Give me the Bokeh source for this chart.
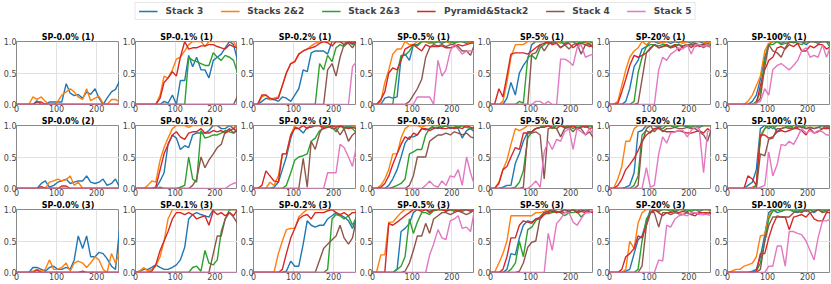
from bokeh.plotting import figure
from bokeh.layouts import column, row
from bokeh.models import Range1d, FixedTicker, PrintfTickFormatter, Legend, LegendItem, Title
from bokeh.embed import file_html
from bokeh.resources import INLINE

STEPS = [0, 10, 21, 31, 41, 51, 62, 72, 82, 93, 103, 113, 124, 134, 144, 154, 165, 175, 185, 196, 206, 216, 226, 237, 247, 257]

SERIES = ["Stack 3", "Stacks 2&2", "Stack 2&3", "Pyramid&Stack2", "Stack 4", "Stack 5"]
COLORS = ["#1f77b4", "#ff7f0e", "#2ca02c", "#d62728", "#8c564b", "#e377c2"]

LEVELS = ["SP-0.0%", "SP-0.1%", "SP-0.2%", "SP-0.5%", "SP-5%", "SP-20%", "SP-100%"]
SEEDS = ["(1)", "(2)", "(3)"]

X_TICKS = [0, 100, 200]
Y_TICKS = [0, 0.5, 1.0]

ZERO = [0, 0, 0, 0, 0, 0, 0, 0, 0, 0, 0, 0, 0, 0, 0, 0, 0, 0, 0, 0, 0, 0, 0, 0, 0, 0]

# panel order: row (1) cols 0..6, row (2) cols 0..6, row (3) cols 0..6
STACK3 = [
    [0,0,0,0,0, .06,0,0,.04,.04, .04,.04,.33,.18,.14, .16,.1,.2,.16,.25, .1,0,.1,.2,.24, .37],
    [0,0,0,0,0, 0,0,.05,.02,.15, 0,.38,.38,.78,.6, .75,.55,.55,.42,.7, .75,.8,.9,1,.95, .7],
    [0,0,.05,.1,.08, .08,.05,.12,.1,.05, .15,.25,.55,.52,.82, .85,.85,.85,.8,1, 1,1,1,.97,1, .98],
    [0,0,0,.1,.12, .1,.12,.75,.8,.7, .95,.95,1,1,.97, 1,1,.97,1,1, .98,1,1,.97,1, 1],
    [0,0,0,0,.1, .35,.15,.5,.62,.72, .95,1,1,1,.97, 1,1,1,.97,1, 1,.95,1,1,.95, .9],
    [0,0,0,0,.05, .25,.6,.7,.88,.92, 1,1,.97,1,1, .97,1,.98,1,1, .97,1,1,.97,1, 1],
    [0,0,0,0,0, 0,.05,.15,.4,.75, .95,1,1,.97,1, 1,.98,1,1,.95, 1,1,.97,1,1, .97],
    [0,0,0,0,0, 0,.08,.12,.02,.05, .1,.12,.15,.08,.1, .12,.12,.2,.1,.08, .1,.15,.05,.08,.15, .02],
    [0,0,0,0,0, 0,.12,.25,.7,.85, .8,.62,.68,.65,.85, .88,.88,.88,.92,1, 1,.95,.95,1,.95, 1],
    [0,0,0,0,0, .02,.1,.3,.5,.8, .98,.95,.88,.97,.97, 1,1,1,.97,1, 1,.98,1,.97,1, .95],
    [0,0,0,0,.05, .15,.3,.5,.72,.82, .82,.85,.95,.93,.95, .97,.95,.97,1,.95, .97,.95,.8,.92,.95, .9],
    [0,0,0,.02,.05, .05,.4,.55,.75,.9, .9,.95,.97,1,1, .97,1,1,.97,1, 1,.95,1,.97,1, .97],
    [0,0,0,0,.02, .05,.25,.9,.92,1, 1,1,.97,1,1, 1,.97,1,1,.98, 1,1,.97,1,1, 1],
    [0,0,0,0,0, .05,.1,.3,.95,1, .95,1,.9,.95,.97, 1,.95,.97,1,.95, .97,.95,.97,1,.97, .95],
    [0,0,0,0,.08, .08,.05,.02,.08,.1, .05,.05,.08,.05,.2, .58,.38,.58,.25,.25, .32,.3,.22,.1,.05, .68],
    [0,.02,.05,.05,.08, .12,.08,.05,.05,.08, .12,.2,.4,.85,.92, .95,.92,.9,.88,1, 1,1,1,1,1, 1],
    [0,0,0,0,0, 0,0,0,.02,.18, .1,.1,.45,.82,.75, .72,.75,.75,.85,.9, .95,.92,.88,.82,.7, .85],
    [0,0,0,0,0, 0,.05,.65,.7,.78, .95,1,1,1,.97, 1,1,1,.98,1, 1,1,.97,1,1, 1],
    [0,0,0,0,.05, .3,.28,.55,.75,.82, .8,.85,.88,.95,.97, 1,.95,.97,1,.97, 1,.95,.97,1,.97, .95],
    [0,0,0,0,.02, .05,.3,.52,.58,.8, 1,1,.97,1,1, 1,.97,1,1,.97, 1,1,.97,1,1, .98],
    [0,0,0,0,0, 0,.02,.05,.25,.6, .95,1,.95,.97,1, 1,.97,.95,1,.97, 1,.95,1,1,.97, 1],
]

STACKS22 = [
    [0,0,0,0,.12, .08,.12,.05,0,0, .05,.15,.2,.25,.2, .12,.08,.25,.06,.1, .13,.02,0,.08,.08, .04],
    [0,0,0,0,0, 0,.15,.45,.42,.55, .72,.75,.85,.95,1, 1,1,.92,1,1, 1,1,1,1,1, .88],
    [0,0,.12,.15,.08, .1,.12,.3,.5,.65, .68,.8,.85,.88,.93, .97,1,1,1,1, 1,1,1,1,.97, .95],
    [0,0,.05,.35,.55, .8,.88,.88,1,.95, .95,1,1,1,.97, 1,1,1,1,.97, 1,1,1,1,.98, 1],
    [0,0,0,.05,.35, .75,.95,.95,.95,1, 1,1,1,1,1, 1,1,.97,1,1, 1,1,1,.98,1, 1],
    [0,0,.05,.3,.55, .75,.85,.9,1,.95, 1,1,1,.97,1, 1,1,1,.97,1, 1,1,1,1,.97, 1],
    [0,0,0,0,0, .05,.15,.3,.45,.85, .97,1,1,1,1, 1,1,1,1,1, 1,1,1,1,1, 1],
    [0,0,0,0,0, 0,0,0,.1,.12, .15,.12,.14,.2,.05, .1,0,0,0,0, 0,0,0,0,0, 0],
    [0,0,0,.05,.12, .1,.45,.65,.8,.95, 1,1,1,.97,1, 1,1,1,1,1, 1,1,1,1,1, .95],
    [0,0,0,0,.1, .05,.2,.55,.55,.85, 1,1,1,1,1, 1,1,.97,1,1, 1,1,1,1,1, .95],
    [0,0,.05,.15,.3, .55,.55,.8,.95,1, 1,1,.97,1,1, 1,1,1,1,1, 1,.97,1,1,1, 1],
    [0,0,.1,.3,.45, .7,.95,.92,.95,1, 1,1,1,1,1, 1,1,1,.97,1, 1,1,1,1,1, 1],
    [0,0,.15,.35,.75, .75,.95,1,1,1, 1,1,1,1,1, 1,1,1,1,1, 1,1,1,1,1, 1],
    [0,0,0,0,0, 0,.02,.05,.85,.95, 1,1,1,1,1, 1,1,1,1,1, 1,1,1,1,1, 1],
    [0,0,0,0,.02, .05,.02,.05,.2,.05, .05,.08,.15,.02,.15, .18,.15,.08,.15,.25, .2,.05,0,.3,.15, .3],
    [0,.02,.08,.02,.05, .1,.25,.5,.85,1, 1,1,1,1,1, 1,1,1,1,1, 1,1,1,1,1, 1],
    [0,0,0,0,0, 0,.3,.5,.68,.7, .7,.88,.95,1,1, 1,1,1,1,1, 1,1,1,1,1, 1],
    [0,0,.28,.28,.8, .8,.88,.95,1,1, 1,1,1,1,1, 1,1,1,1,1, 1,1,1,1,1, 1],
    [0,0,.15,.3,.5, .9,.9,.9,.9,.9, .9,.95,.95,.97,1, 1,1,1,1,1, 1,1,1,1,1, 1],
    [0,0,0,0,.05, .5,.38,.78,.95,1, 1,1,1,1,1, 1,1,1,1,1, 1,1,1,1,1, .95],
    [0,.02,.05,.05,.1, .12,.15,.25,.58,.6, .9,.98,1,1,1, 1,1,1,1,1, 1,1,1,1,1, 1],
]

STACK23 = [
    ZERO,
    [0,0,0,0,0, 0,0,0,0,0, 0,0,0,.75,.7, .68,.65,.62,.62,.82, .75,.7,.78,.75,.7, .5],
    [0,0,0,0,0, 0,0,0,0,0, 0,0,0,0,0, 0,.65,.55,.78,.68, .9,.95,.92,1,.95, 1],
    [0,0,0,0,0, 0,.5,.78,.78,.85, .95,.93,1,1,1, .97,1,1,1,1, .97,1,1,1,1, 1],
    [0,0,0,0,0, 0,0,.05,.02,.75, .78,.72,.9,.95,1, .97,1,1,.95,1, 1,1,.97,1,1, .97],
    [0,0,0,0,0, 0,.05,.5,.75,.92, .95,.95,.93,.95,.95, .92,.95,.95,.93,.95, .95,.97,.95,.95,.97, .95],
    [0,0,0,0,0, 0,0,.05,.2,.7, .95,.95,1,.95,.97, .98,1,.97,.95,1, 1,1,1,1,1, .9],
    ZERO,
    [0,0,0,0,0, 0,.02,0,0,0, 0,.02,.05,.5,.15, .1,.92,.8,.82,.85, .85,.88,.92,.9,.88, .92],
    [0,0,0,0,0, 0,0,0,.05,.25, .45,.5,.52,.55,.75, .8,.92,.95,1,.98, .9,1,.95,.98,.95, .88],
    [0,0,0,0,0, .02,.05,.08,.15,.55, .58,.62,.62,.85,.95, 1,1,.97,1,1, 1,.97,1,.97,.95, .97],
    [0,0,0,0,0, 0,.02,.1,.28,.8, .9,.95,.97,1,1, .95,1,1,.97,1, .95,1,1,.97,1, 1],
    [0,0,0,0,0, 0,.05,.2,.85,.92, .88,.95,.97,.95,1, 1,.97,1,1,1, .97,1,1,1,1, 1],
    [0,0,0,0,0, 0,0,.05,.8,.95, 1,.95,1,1,1, .97,1,1,.97,1, 1,1,1,1,1, 1],
    ZERO,
    [0,0,0,0,0, 0,0,0,0,0, 0,0,0,0,.08, .1,.02,.35,.15,.12, .2,.65,.85,1,1, 1],
    [0,0,0,0,0, 0,0,0,0,0, 0,0,0,0,0, 0,0,0,.05,.85, .92,.9,.85,.9,.75, .88],
    [0,0,0,0,0, 0,.05,.1,.25,.85, .62,.8,.95,.95,.92, .98,1,1,1,1, .97,1,1,1,1, 1],
    [0,0,0,0,0, .05,.15,.5,.25,.68, .72,.82,.88,.95,.93, .95,.97,.95,.9,.95, .95,.97,.88,.95,.95, .97],
    [0,0,0,0,0, 0,0,.05,.5,.85, .95,.98,1,1,1, .97,1,1,1,1, .97,1,1,1,1, 1],
    [0,0,0,0,0, 0,0,.02,.15,.5, .85,.98,1,.97,1, 1,.97,1,.97,1, 1,.97,1,.97,1, 1],
]

PYRAMID = [
    [0,0,0,0,0, .04,.04,0,0,0, 0,0,0,0,0, 0,0,0,0,0, 0,0,0,0,0, 0],
    [0,0,0,0,0, 0,.1,.35,.42,.52, .45,.75,1,.88,.9, .9,.93,.93,.95,.95, .92,.9,.88,.95,.92, .9],
    [0,0,.15,.15,.1, .08,.1,.3,.5,.65, .68,.8,.85,.88,.9, .92,.97,1,.98,.93, 1,1,.95,1,.97, 1],
    [0,0,.08,.2,.5, .58,.55,.7,.88,.92, .95,.9,.85,.95,.92, .92,.92,.93,.9,.9, .92,.95,.93,.95,.97, .98],
    [0,0,.25,.12,.45, .8,.82,.82,.82,.8, .85,.9,.95,.97,1, .95,.97,.9,.95,.97, .9,.95,.97,.95,.92, .95],
    [0,0,.02,.2,.4, .62,.78,.75,.78,.82, .88,.95,.9,.92,.95, .9,.95,.85,.93,.95, .9,.97,.92,.95,.93, .9],
    [0,0,0,0,0, 0,0,.02,.3,.55, .7,.75,.9,.92,.88, .95,.92,.97,.85,.85, .93,.9,.95,.95,.88, .92],
    [0,0,0,0,0, 0,.03,0,0,0, 0,.04,.04,0,0, 0,0,0,0,0, 0,0,0,0,0, 0],
    [0,0,0,0,0, .02,.3,.55,.7,.85, .9,.82,.78,.88,.9, .9,.95,.88,.88,.92, .9,.92,.88,.92,.95, .9],
    [0,0,.05,.28,.2, .12,.1,.55,.55,.85, .95,.95,1,.95,1, 1,1,.95,.97,1, .97,1,.97,.95,.97, .95],
    [0,0,.02,.08,.2, .38,.55,.7,.82,.78, .88,.85,.95,.95,.92, .95,.97,.95,.95,.97, .95,.97,.95,1,.97, .95],
    [0,0,.08,.3,.35, .5,.65,.62,.88,.88, .9,.95,.97,.97,1, .97,.95,1,.97,.97, 1,.95,.97,1,.95, .97],
    [0,0,.05,.15,.3, .38,.48,.6,.75,.85, .9,.95,.95,.92,.9, .9,.9,.92,.9,.88, .88,.9,.92,.88,.95, .9],
    [0,0,0,0,0, .2,.15,.05,.85,.85, .8,.82,.9,.92,.9, .92,.95,.95,.92,.85, .95,.88,.9,.95,.95, .95],
    [0,0,0,0,0, .04,0,0,0,0, 0,0,0,0,0, 0,.02,0,0,0, 0,0,0,0,0, 0],
    [0,0,0,0,.02, .12,.35,.5,.65,.85, .95,.95,.92,.95,.92, .85,.88,.9,.75,.98, .92,.95,.9,.95,.9, 1],
    [0,0,0,0,0, 0,0,.05,.3,.55, .7,.85,.9,.92,.85, .95,.95,.95,.98,1, .95,.92,.95,.9,.95, .95],
    [0,0,0,0,.78, .75,.8,.85,.9,.95, 1,1,.97,1,.95, 1,1,1,.97,1, 1,.97,1,1,.97, 1],
    [0,0,0,.05,.25, .55,.55,.75,.82,.8, .78,.85,.85,.92,.95, .97,.95,.97,.95,.97, 1,.95,.97,.95,.97, .95],
    [0,0,0,.05,.25, .3,.38,.58,.55,.75, .95,1,.95,.9,.95, .95,.97,.95,.97,.95, .92,.9,.95,.95,.95, .95],
    [0,0,0,0,0, 0,0,.02,.3,.3, .55,.75,.9,.88,.88, .68,.88,.9,.92,.88, .95,.85,.82,.82,.95, .95],
]

STACK4 = [
    ZERO,
    [0,0,0,0,0, 0,0,0,0,0, 0,0,0,0,0, 0,0,0,0,0, 0,0,0,0,0, .13],
    [0,0,0,0,0, 0,0,0,0,0, 0,0,0,0,0, 0,0,0,.55,.65, .45,.75,.95,.97,.9, 1],
    [0,0,0,0,0, 0,0,0,0,.05, .15,.25,.4,.75,.9, .95,.93,.95,.92,.95, .95,.92,.85,.85,.78, .95],
    [0,0,0,0,0, 0,0,0,0,0, .8,.82,.95,.85,.95, 1,.97,.9,.95,.88, .95,.97,.8,.95,.97, .9],
    [0,0,0,0,0, 0,0,.02,.4,.82, .9,.95,.9,.92,.93, .9,.92,.95,.9,.93, .95,.92,.95,.9,.95, .92],
    [0,0,0,0,0, 0,0,.02,.1,.6, .95,.85,.82,.75,.9, 1,1,1,1,1, 1,1,1,1,1, 1],
    ZERO,
    [0,0,0,0,0, 0,0,0,0,0, 0,0,0,0,.05, .15,.5,.33,.45,.55, .65,.7,.9,.95,.88, .95],
    [0,0,0,0,0, 0,0,0,0,0, 0,0,.48,.02,.75, .62,.88,1,1,.95, .95,.85,.95,.75,.85, .9],
    [0,0,0,0,0, 0,0,0,0,.05, .2,.5,.5,.5,.75, .8,.85,.85,.88,.85, .9,.88,.85,.88,.82, .8],
    [0,0,0,0,0, 0,0,0,.02,.88, .88,.9,.85,.15,.95, .97,.95,.82,.95,.97, .9,.97,.95,.85,.9, .8],
    [0,0,0,0,0, 0,0,.05,.72,.95, 1,.9,.98,.9,.95, .95,.97,.95,.95,.97, .95,.95,.9,.85,.75, .95],
    [0,0,0,0,0, 0,0,0,.55,.52, .78,.8,.95,.95,.97, .95,.95,1,.97,.95, .97,.95,.97,.95,1, .97],
    ZERO,
    [0,0,0,0,0, 0,0,0,0,0, 0,0,0,0,0, 0,0,0,0,.3, .58,.58,.85,.95,.88, .78],
    [0,0,0,0,0, 0,0,0,0,0, 0,0,0,0,0, 0,.2,.38,.45,.52, .58,.75,.55,.45,.55, .85],
    [0,0,0,0,0, 0,0,0,.02,.15, .35,.58,.58,.78,.62, .85,.9,.95,.95,.92, .95,.98,.95,.92,.95, 1],
    [0,0,0,0,0, 0,0,.02,.15,.4, .48,.5,.88,.95,.97, 1,.97,.95,1,.97, 1,.97,1,.97,1, 1],
    [0,0,0,0,0, 0,0,0,.1,.75, .95,.95,.72,.95,.95, .92,.95,.93,.92,.95, .92,.95,.93,.92,.95, .93],
    [0,0,0,0,0, 0,0,0,.05,.5, .75,.88,.88,.88,.88, .88,.95,.97,.95,1, .95,.97,1,.95,.97, 1],
]

STACK5 = [
    ZERO,
    ZERO,
    [0,0,0,0,0, 0,0,0,0,0, 0,0,0,0,0, 0,0,0,0,0, 0,0,0,0,.6, .68],
    [0,0,0,0,0, 0,0,0,0,0, 0,.12,.12,.12,.12, 0,.7,.45,.55,.85, .95,.88,.8,.85,.85, .85],
    [0,0,0,0,0, 0,0,0,0,0, 0,.05,.05,0,.05, 0,0,.72,.72,.68, .62,.9,.95,.75,.78, .8],
    [0,0,0,0,0, 0,0,0,0,0, 0,0,.55,.75,.7, .8,.85,.9,.88,.95, .8,.95,.95,.92,.95, .9],
    [0,0,0,0,0, 0,0,.02,.05,.25, .15,.55,.62,.65,.6, .55,.62,.7,.85,.9, .75,.78,.75,.95,.75, .92],
    ZERO,
    [0,0,0,0,0, 0,0,0,0,0, 0,0,0,0,0, 0,0,0,0,0, 0,0,0,.05,.08, .1],
    [0,0,0,0,0, 0,0,0,0,0, 0,0,0,0,0, 0,0,0,.25,.25, .25,.7,.65,.5,.35, .68],
    [0,0,0,0,0, 0,0,0,0,0, 0,0,0,.05,.12, .05,.02,.12,.05,.2, .18,.3,.05,.5,.25, .05],
    [0,0,0,0,0, 0,0,0,0,0, .05,.12,.02,.58,.75, .62,.78,.75,.9,.95, .62,.95,.9,.85,.95, .85],
    [0,0,0,0,0, 0,0,0,0,.33, .02,.05,.55,.82,.72, .88,.9,.92,.92,.82, .92,.98,.95,.25,.9, .95],
    [0,0,0,0,0, 0,0,0,.02,.05, .58,.2,.38,.7,.68, .75,.7,.82,.95,.88, .92,.88,.92,.9,.85, .85],
    ZERO,
    ZERO,
    ZERO,
    [0,0,0,0,0, 0,0,0,0,0, 0,0,0,0,.28, .45,.68,.55,.52,.82, .85,.9,.7,.72,.65, 1],
    [0,0,0,0,0, 0,0,0,0,0, 0,0,0,0,.62, .35,.78,.85,.95,.95, .8,.75,.85,.95,.95, 1],
    [0,0,0,0,0, 0,0,0,0,0, 0,0,.2,.18,.75, .72,.85,.9,.92,.9, .95,.95,.92,.92,.92, .9],
    [0,0,0,0,0, 0,0,0,0,0, .1,.1,.42,.42,.1, .65,.65,.62,.6,.5, .35,.2,.55,.82,.82, .85],
]

ALL_SERIES = [STACK3, STACKS22, STACK23, PYRAMID, STACK4, STACK5]

for name, ser in zip(SERIES, ALL_SERIES):
    if len(ser) != 21:
        raise ValueError(f"{name}: {len(ser)} panels")
    for k, vals in enumerate(ser):
        if len(vals) != len(STEPS):
            raise ValueError(f"{name} panel {k}: {len(vals)} values")

FONT = "DejaVu Sans"
COL_W = [119, 118, 119, 118, 119, 118, 119]
ROW_H = 84
LEG_H = 30


def make_panel(idx):
    r, c = divmod(idx, 7)
    p = figure(width=COL_W[c], height=ROW_H, x_range=Range1d(0, STEPS[-1]), y_range=Range1d(0, 1),
               output_backend="svg", toolbar_location=None,
               min_border_left=0, min_border_right=0, min_border_top=0, min_border_bottom=0)
    t = Title(text=f"{LEVELS[c]} {SEEDS[r]}", align="center", text_font=FONT,
              text_font_size="8px", text_font_style="bold", text_color="#000000",
              standoff=0, offset=0)
    p.add_layout(t, "above")
    p.outline_line_color = "#8a8a8a"
    p.outline_line_width = 1
    p.background_fill_color = "white"
    p.border_fill_color = "white"
    p.xaxis.ticker = FixedTicker(ticks=X_TICKS)
    p.yaxis.ticker = FixedTicker(ticks=Y_TICKS)
    p.yaxis.formatter = PrintfTickFormatter(format="%.1f")
    for ax in (p.xaxis[0], p.yaxis[0]):
        ax.axis_line_color = None
        ax.major_tick_line_color = None
        ax.minor_tick_line_color = None
        ax.major_tick_out = 0
        ax.major_tick_in = 0
        ax.minor_tick_out = 0
        ax.minor_tick_in = 0
        ax.major_label_standoff = 0
        ax.major_label_text_font = FONT
        ax.major_label_text_font_size = "8px"
        ax.major_label_text_color = "#444444"
    p.grid.grid_line_color = "#e2e2e2"
    p.grid.grid_line_width = 1
    for ser, col in zip(ALL_SERIES, COLORS):
        p.line(STEPS, ser[idx], line_color=col, line_width=1.4)
    return p


panels = [make_panel(i) for i in range(21)]

leg = figure(width=sum(COL_W), height=LEG_H, x_range=Range1d(0, 1), y_range=Range1d(0, 1),
             output_backend="svg", toolbar_location=None, x_axis_type=None, y_axis_type=None,
             min_border_left=0, min_border_right=0, min_border_top=0, min_border_bottom=0)
leg.outline_line_color = None
leg.grid.visible = False
items = []
for name, col in zip(SERIES, COLORS):
    rr = leg.line([-5, -4], [-5, -5], line_color=col, line_width=1.4)
    items.append(LegendItem(label=name, renderers=[rr]))
legend = Legend(items=items, orientation="horizontal", location="top_center",
                label_text_font=FONT, label_text_font_size="9px", label_text_font_style="bold",
                glyph_width=19, glyph_height=10, label_height=10, label_standoff=8,
                spacing=17, padding=3, margin=2,
                border_line_color="#d0d0d0", border_line_width=1, background_fill_alpha=1.0)
leg.add_layout(legend, "center")

layout = column(leg, row(*panels[0:7]), row(*panels[7:14]), row(*panels[14:21]))

open("out.html", "w").write(file_html(layout, INLINE))
